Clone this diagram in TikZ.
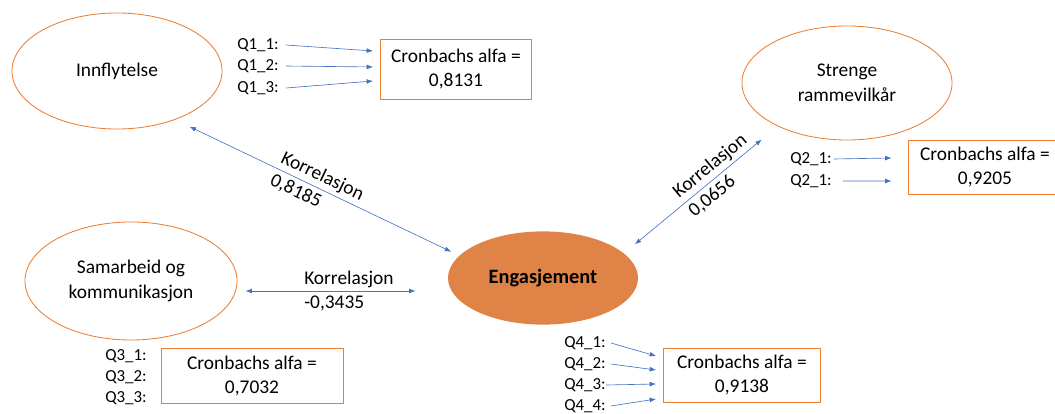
\documentclass[tikz,border=0pt]{standalone}
\usepackage{fontspec}
\setmainfont{Carlito}
\usetikzlibrary{shapes.geometric,arrows.meta}
\definecolor{boxorange}{RGB}{237,125,49}
\definecolor{engfill}{RGB}{224,131,70}
\definecolor{linkblue}{RGB}{68,114,196}
\begin{document}
\begin{tikzpicture}[
  x=0.025cm, y=-0.025cm,
  factor/.style={ellipse, draw=boxorange, line width=0.6pt, align=center, inner sep=0pt,
                 font=\fontsize{13.8}{17.5}\selectfont},
  alphabox/.style={draw=boxorange, line width=0.6pt, align=center, inner sep=0pt,
                   font=\fontsize{13.8}{17.5}\selectfont},
  item/.style={inner sep=0pt, font=\fontsize{12}{14}\selectfont},
  arrow/.style={-{Latex[length=0.16cm,width=0.12cm]}, draw=linkblue, line width=0.45pt},
  corr/.style={{Latex[length=0.16cm,width=0.12cm]}-{Latex[length=0.16cm,width=0.12cm]},
               draw=linkblue, line width=0.45pt},
  corrlabel/.style={align=left, inner sep=0pt, font=\fontsize{13.8}{17.5}\selectfont}
]
\useasboundingbox (0,0) rectangle (1055,414);

% factors
\node[factor, minimum width=5.25cm, minimum height=2.9cm] (inn) at (117,71) {Innflytelse};
\node[factor, minimum width=5.25cm, minimum height=2.85cm] (str) at (847,83) {Strenge\\rammevilkår};
\node[factor, minimum width=5.3cm, minimum height=2.95cm] (sam) at (131,281) {Samarbeid og\\kommunikasjon};
\node[factor, draw=none, fill=engfill, minimum width=4.75cm, minimum height=2.33cm,
      font=\fontsize{14.5}{17}\selectfont\bfseries] (eng) at (543,278) {Engasjement};

% reliability boxes
\node[alphabox, minimum width=3.775cm, minimum height=1.5cm] (alpha1) at (456,69) {Cronbachs alfa =\\0,8131};
\node[alphabox, minimum width=3.85cm, minimum height=1.35cm] (alpha2) at (985,167) {Cronbachs alfa =\\0,9205};
\node[alphabox, minimum width=4.55cm, minimum height=1.375cm] (alpha3) at (252,376) {Cronbachs alfa =\\0,7032};
\node[alphabox, minimum width=3.925cm, minimum height=1.35cm] (alpha4) at (742,375) {Cronbachs alfa =\\0,9138};

% items
\node[item] (q11) at (258,45) {Q1\_1:};
\node[item] (q12) at (258,66) {Q1\_2:};
\node[item] (q13) at (258,88) {Q1\_3:};
\node[item] (q21) at (811,159) {Q2\_1:};
\node[item] (q22) at (811,181) {Q2\_1:};
\node[item] (q31) at (126,356) {Q3\_1:};
\node[item] (q32) at (126,377) {Q3\_2:};
\node[item] (q33) at (126,398) {Q3\_3:};
\node[item] (q41) at (585,343) {Q4\_1:};
\node[item] (q42) at (585,364) {Q4\_2:};
\node[item] (q43) at (585,385) {Q4\_3:};
\node[item] (q44) at (585,406) {Q4\_4:};

\draw[arrow] ([xshift=0.175cm]q11.east) -- ([xshift=-0.175cm,yshift=0.45cm]alpha1.west);
\draw[arrow] ([xshift=0.175cm]q12.east) -- ([xshift=-0.175cm,yshift=0.05cm]alpha1.west);
\draw[arrow] ([xshift=0.175cm]q13.east) -- ([xshift=-0.175cm,yshift=-0.3cm]alpha1.west);
\draw[arrow] ([xshift=0.05cm]q21.east) -- ([xshift=-0.4cm,yshift=0.225cm]alpha2.west);
\draw[arrow] ([xshift=0.275cm]q22.east) -- ([xshift=-0.4cm,yshift=-0.35cm]alpha2.west);
\draw[arrow] ([xshift=0.125cm]q41.east) -- ([xshift=-0.175cm,yshift=0.475cm]alpha4.west);
\draw[arrow] ([xshift=0.125cm]q42.east) -- ([xshift=-0.175cm,yshift=0.125cm]alpha4.west);
\draw[arrow] (q43.east) -- ([xshift=-0.175cm,yshift=-0.225cm]alpha4.west);
\draw[arrow] ([xshift=0.125cm]q44.east) -- ([xshift=-0.175cm,yshift=-0.6cm]alpha4.west);

% correlations
\draw[corr, shorten <=0.4cm, shorten >=0.22cm] (inn.-40) -- (eng.165)
  node[corrlabel, midway, sloped] {Korrelasjon\\0,8185};
\coordinate (samr) at ([yshift=-0.25cm]sam.east);
\draw[corr, shorten <=0.2cm, shorten >=0.8cm] (samr) -- (samr -| eng.west)
  node[corrlabel, midway, xshift=0.16cm] {Korrelasjon\\-0,3435};
\draw[corr, shorten <=0.35cm, shorten >=0.52cm] (eng.17) -- (str.-148)
  node[corrlabel, pos=0.61, sloped] {Korrelasjon\\0,0656};
\end{tikzpicture}
\end{document}
